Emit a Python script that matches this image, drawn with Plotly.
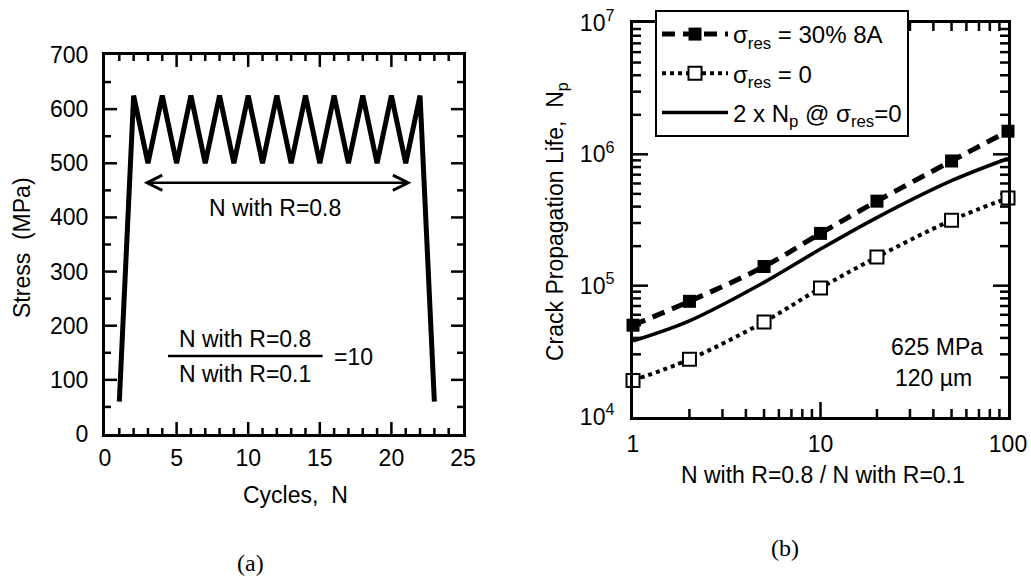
import plotly.graph_objects as go

# ---------- data: panel (a) ----------
cycles = [1, 2, 3, 4, 5, 6, 7, 8, 9, 10, 11, 12, 13, 14, 15, 16, 17, 18, 19, 20, 21, 22, 23]
stress = [60, 625, 500, 625, 500, 625, 500, 625, 500, 625, 500, 625, 500, 625, 500, 625, 500, 625, 500, 625, 500, 625, 60]

# ---------- data: panel (b) ----------
ratio = [1, 2, 5, 10, 20, 50, 100]
np_res30 = [5.0e4, 7.6e4, 1.4e5, 2.5e5, 4.4e5, 8.9e5, 1.5e6]
np_res0 = [1.9e4, 2.75e4, 5.3e4, 9.6e4, 1.65e5, 3.15e5, 4.65e5]
np_twice = [3.8e4, 5.4e4, 1.06e5, 1.9e5, 3.3e5, 6.3e5, 9.3e5]

y_tickvals = [1e4, 1e5, 1e6, 1e7]
y_ticktext = ["10<sup>4</sup>", "10<sup>5</sup>", "10<sup>6</sup>", "10<sup>7</sup>"]
x_tickvals = [1, 10, 100]
x_ticktext = ["1", "10", "100"]

W, H = 1031, 581
FONT = "Liberation Sans, Arial, sans-serif"
FS = 23

def px_x(p):
    return p / W

def px_y(p):
    return 1 - p / H

# panel boxes in pixels (left, right, top, bottom)
A_BOX = (105, 463, 55, 434)
B_BOX = (633, 1008, 23, 417)
A_XR, A_YR = (0, 25), (0, 700)
B_XR, B_YR = (0, 2), (4, 7)   # log10 ranges

fig = go.Figure()

# ---- tick marks (inside, on all four sides) drawn as line segments ----
def coord(lo, hi, frac, is_log, from_hi=False):
    t = hi - frac * (hi - lo) if from_hi else lo + frac * (hi - lo)
    return 10 ** t if is_log else t

def tick_segments(box, xr, yr, is_log, xvals, xlens, yvals, ylens):
    xs, ys = [], []
    h = box[3] - box[2]
    w = box[1] - box[0]
    ylo, yhi = coord(yr[0], yr[1], 0, is_log), coord(yr[0], yr[1], 0, is_log, True)
    xlo, xhi = coord(xr[0], xr[1], 0, is_log), coord(xr[0], xr[1], 0, is_log, True)
    for v, L in zip(xvals, xlens):
        f = L / h
        xs += [v, v, None, v, v, None]
        ys += [ylo, coord(yr[0], yr[1], f, is_log), None,
               yhi, coord(yr[0], yr[1], f, is_log, True), None]
    for v, L in zip(yvals, ylens):
        f = L / w
        ys += [v, v, None, v, v, None]
        xs += [xlo, coord(xr[0], xr[1], f, is_log), None,
               xhi, coord(xr[0], xr[1], f, is_log, True), None]
    return xs, ys

lin_x = list(range(1, 25))
lin_y = list(range(50, 700, 50))
ax_x, ax_y = tick_segments(A_BOX, A_XR, A_YR, False,
                           lin_x, [12 if v % 5 == 0 else 6 for v in lin_x],
                           lin_y, [12 if v % 100 == 0 else 6 for v in lin_y])
log_x = [m * d for d in (1, 10) for m in range(1, 10)][1:]
log_y = [m * d for d in (1e4, 1e5, 1e6) for m in range(1, 10)][1:]
bx_x, bx_y = tick_segments(B_BOX, B_XR, B_YR, True,
                           log_x, [15 if m == 10 else 8 for m in log_x],
                           log_y, [15 if m in (1e5, 1e6) else 8 for m in log_y])

fig.add_trace(go.Scatter(x=ax_x, y=ax_y, mode="lines", line=dict(color="black", width=2.5),
                         hoverinfo="skip", showlegend=False, connectgaps=False,
                         xaxis="x", yaxis="y"))
fig.add_trace(go.Scatter(x=bx_x, y=bx_y, mode="lines", line=dict(color="black", width=2.5),
                         hoverinfo="skip", showlegend=False, connectgaps=False,
                         xaxis="x2", yaxis="y2"))

# ---- data traces ----
fig.add_trace(go.Scatter(x=cycles, y=stress, mode="lines",
                         line=dict(color="black", width=5),
                         showlegend=False, xaxis="x", yaxis="y"))

fig.add_trace(go.Scatter(x=ratio, y=np_res30, mode="lines+markers",
                         name="σ<sub>res</sub> = 30% 8A", legendgroup="a",
                         line=dict(color="black", width=5, dash="13px,8px", shape="spline"),
                         marker=dict(symbol="square", size=13, color="black"),
                         cliponaxis=False, xaxis="x2", yaxis="y2"))
fig.add_trace(go.Scatter(x=ratio, y=np_res0, mode="lines+markers",
                         name="σ<sub>res</sub> = 0", legendgroup="b",
                         line=dict(color="black", width=4, dash="4px,4px", shape="spline"),
                         marker=dict(symbol="square", size=13, color="white",
                                     line=dict(color="black", width=2)),
                         cliponaxis=False, xaxis="x2", yaxis="y2"))
fig.add_trace(go.Scatter(x=ratio, y=np_twice, mode="lines",
                         name="2 x N<sub>p</sub> @ σ<sub>res</sub>=0", legendgroup="c",
                         line=dict(color="black", width=3.6, shape="spline"),
                         cliponaxis=False, xaxis="x2", yaxis="y2"))

common = dict(showline=True, linecolor="black", linewidth=3, mirror=True,
              showgrid=False, zeroline=False, ticks="", automargin=False,
              tickfont=dict(family=FONT, size=FS, color="black"))

fig.update_layout(
    template="none",
    width=W, height=H, autosize=False,
    margin=dict(l=0, r=0, t=0, b=0, pad=0),
    paper_bgcolor="white", plot_bgcolor="white",
    font=dict(family=FONT, size=FS, color="black"),
    xaxis=dict(domain=[px_x(A_BOX[0]), px_x(A_BOX[1])], range=list(A_XR), tickmode="linear",
               tick0=0, dtick=5, ticklabelstandoff=1, anchor="y", **common),
    yaxis=dict(domain=[px_y(A_BOX[3]), px_y(A_BOX[2])], range=list(A_YR), tickmode="linear",
               tick0=0, dtick=100, ticklabelstandoff=9, anchor="x", **common),
    xaxis2=dict(domain=[px_x(B_BOX[0]), px_x(B_BOX[1])], type="log", range=list(B_XR),
                tickmode="array", tickvals=x_tickvals, ticktext=x_ticktext,
                ticklabelstandoff=4, anchor="y2", **common),
    yaxis2=dict(domain=[px_y(B_BOX[3]), px_y(B_BOX[2])], type="log", range=list(B_YR),
                tickmode="array", tickvals=y_tickvals, ticktext=y_ticktext,
                ticklabelstandoff=11, anchor="x2", **common),
    legend=dict(x=px_x(655), y=px_y(10), xanchor="left", yanchor="top",
                bgcolor="white", bordercolor="black", borderwidth=2,
                font=dict(family=FONT, size=24, color="black"),
                itemwidth=66, traceorder="grouped", tracegroupgap=5),
)

# fraction bar (panel a)
fig.add_shape(type="line", xref="x", yref="y", x0=4.4, x1=15.2, y0=144, y1=144,
              line=dict(color="black", width=2.5), layer="above")

ann = []
def A(text, x, y, size=FS, angle=0, family=FONT, xanchor="center"):
    ann.append(dict(text=text, x=px_x(x), y=px_y(y), xref="paper", yref="paper",
                    showarrow=False, textangle=angle, xanchor=xanchor, yanchor="middle",
                    font=dict(family=family, size=size, color="black")))

A("Stress  (MPa)", 22, 248, angle=-90)
A("Cycles,  N", 295, 495)
A("N with R=0.8", 275, 208)
A("N with R=0.8", 245, 339)
A("N with R=0.1", 245, 374)
A("=10", 353, 357)
A("(a)", 250, 563, size=24, family="Liberation Serif, Times New Roman, serif")
A("Crack Propagation Life,  N<sub>p</sub>", 557, 222, angle=-90)
A("N with R=0.8 / N with R=0.1", 823, 475)
A("625 MPa", 937, 347)
A("120 µm", 933, 378)
A("(b)", 785, 548, size=24, family="Liberation Serif, Times New Roman, serif")
fig.update_layout(annotations=ann)

fig.add_annotation(x=21.4, y=464, ax=2.6, ay=464, xref="x", yref="y", axref="x", ayref="y",
                   showarrow=True, arrowhead=5, startarrowhead=5, arrowside="end+start",
                   arrowwidth=2.5, arrowsize=1.2, startarrowsize=1.2,
                   arrowcolor="black", text="")

fig.write_html("out.html", config={"displayModeBar": False},
               post_script="document.body.style.margin='0';document.body.style.overflow='hidden';")
